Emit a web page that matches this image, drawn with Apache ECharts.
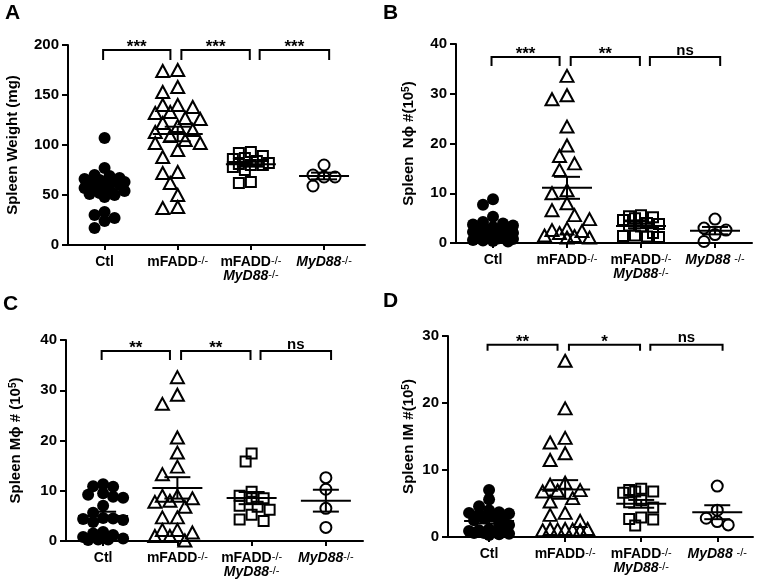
<!DOCTYPE html>
<html><head><meta charset="utf-8">
<script src="https://cdn.jsdelivr.net/npm/echarts@6/dist/echarts.min.js"></script>
<style>html,body{margin:0;padding:0;background:#fff}#c{width:760px;height:584px}</style>
</head><body><div id="c"></div>
<script>
// ---- group names / x labels ----
const groupNames = ['Ctl', 'mFADD-/-', 'mFADD-/- MyD88-/-', 'MyD88-/-'];
const xLabelsAC = ['{b|Ctl}', '{b|mFADD}{s|-/-}', '{b|mFADD}{s|-/-}\n{i|MyD88}{s|-/-}', '{i|MyD88}{s|-/-}'];
const xLabelsBD = ['{b|Ctl}', '{b|mFADD}{s|-/-}', '{b|mFADD}{s|-/-}\n{i|MyD88}{s|-/-}', '{i|MyD88 }{s|-/-}'];

// ---- Panel A: spleen weight (mg) ----
const weightCtl  = [107, 77, 70, 69, 67, 66, 65, 64, 63, 62, 61, 60, 58, 57, 55, 54, 52, 51, 50, 48, 33, 30, 27, 24, 17];
const weightFadd = [175, 174, 158, 153, 140, 140, 138, 133, 132, 127, 126, 122, 119, 115, 113, 109, 105, 102, 102, 95, 88, 73, 72, 62, 50, 38, 37];
const weightDko  = [93, 92, 89, 87, 86, 84, 82, 81, 80, 80, 78, 75, 63, 62];
const weightMyd  = [80, 70, 68, 68, 59];
const ticksA = [0, 50, 100, 150, 200];
const sigA = ['***', '***', '***'];

// ---- Panel B: spleen Nphi # (10^5) ----
const nphiCtl  = [8.8, 7.7, 5.3, 4.2, 3.9, 3.7, 3.5, 3.2, 3.0, 2.8, 2.6, 2.4, 2.2, 2.0, 1.8, 1.6, 1.4, 1.2, 1.0, 0.9, 0.8, 0.6, 0.5, 0.4, 0.3];
const nphiFadd = [33.6, 29.7, 28.9, 23.4, 19.6, 17.5, 16.0, 14.7, 10.6, 10.0, 8.0, 6.6, 5.6, 4.8, 2.9, 2.6, 2.4, 2.0, 1.5, 1.4, 1.1, 1.1];
const nphiDko  = [5.6, 5.4, 5.2, 5.0, 4.6, 4.0, 3.8, 3.5, 3.3, 2.0, 1.5, 1.4, 1.3, 1.2];
const nphiMyd  = [4.8, 3.0, 2.6, 1.7, 0.3];
const ticksB = [0, 10, 20, 30, 40];
const sigB = ['***', '**', 'ns'];

// ---- Panel C: spleen Mphi # (10^5) ----
const mphiCtl  = [11.3, 10.9, 10.8, 9.5, 9.2, 8.8, 8.6, 7.0, 5.6, 4.6, 4.5, 4.4, 4.2, 3.8, 1.8, 1.5, 1.2, 0.8, 0.5, 0.3, 0.3, 0.2];
const mphiFadd = [32.6, 29.1, 27.3, 20.6, 17.6, 14.8, 13.3, 9.0, 9.0, 8.5, 8.0, 7.8, 6.8, 4.7, 4.7, 2.2, 2.2, 1.7, 1.0, 1.0, 0.1];
const mphiDko  = [17.4, 15.8, 9.8, 9.0, 8.5, 8.5, 7.0, 6.8, 6.2, 5.2, 4.3, 4.0];
const mphiMyd  = [12.6, 10.3, 6.5, 2.7];
const ticksC = [0, 10, 20, 30, 40];
const sigC = ['**', '**', 'ns'];

// ---- Panel D: spleen IM # (10^5) ----
const imCtl  = [7.0, 5.6, 4.6, 4.0, 3.7, 3.6, 3.5, 3.4, 3.2, 3.0, 2.8, 2.5, 2.0, 1.8, 1.2, 1.0, 0.9, 0.8, 0.7, 0.6, 0.6, 0.5, 0.4, 0.3];
const imFadd = [26.3, 19.2, 14.8, 14.1, 12.5, 11.5, 8.1, 7.8, 7.0, 6.9, 6.8, 5.8, 5.3, 3.6, 3.3, 2.4, 1.2, 1.2, 1.2, 1.1, 1.1, 1.0, 1.0];
const imDko  = [7.2, 7.0, 6.8, 6.8, 6.6, 5.5, 5.2, 4.4, 2.9, 2.7, 2.6, 1.7];
const imMyd  = [7.6, 4.0, 2.8, 2.3, 1.8];
const ticksD = [0, 10, 20, 30];
const sigD = ['**', '*', 'ns'];

// ---- layout / style ----
const F = '"Liberation Sans", Arial, Helvetica, sans-serif';
const panels = [
  {letter:'A', lx:5, ly:3, grid:{left:68, top:45, width:297, height:200}, xMin:-0.5, xMax:3.56,
   title:'Spleen Weight (mg)', nameGap:48, ticks:ticksA, labels:xLabelsAC,
   data:[weightCtl, weightFadd, weightDko, weightMyd], sig:sigA, brY:195, brDrop:10},
  {letter:'B', lx:383, ly:3, grid:{left:456, top:44, width:296, height:199}, xMin:-0.5, xMax:3.5,
   title:'Spleen  N\u03D5 #(10{s|5})', nameGap:40, ticks:ticksB, labels:xLabelsBD,
   data:[nphiCtl, nphiFadd, nphiDko, nphiMyd], sig:sigB, brY:37.4, brDrop:9},
  {letter:'C', lx:3, ly:294, grid:{left:66, top:340, width:297, height:201}, xMin:-0.5, xMax:3.5,
   title:'Spleen M\u03D5 # (10{s|5})', nameGap:43, ticks:ticksC, labels:xLabelsAC,
   data:[mphiCtl, mphiFadd, mphiDko, mphiMyd], sig:sigC, brY:37.8, brDrop:9},
  {letter:'D', lx:383, ly:291, grid:{left:448, top:336, width:305, height:201}, xMin:-0.54, xMax:3.47,
   title:'Spleen IM #(10{s|5})', nameGap:32, ticks:ticksD, labels:xLabelsBD,
   data:[imCtl, imFadd, imDko, imMyd], sig:sigD, brY:28.7, brDrop:6}
];

const markerStyles = [
  {symbol:'circle', symbolSize:12, itemStyle:{color:'#000', borderWidth:0, opacity:1}},
  {symbol:'triangle', symbolSize:[13,12], itemStyle:{color:'rgba(0,0,0,0)', borderColor:'#000', borderWidth:2, opacity:1}},
  {symbol:'rect', symbolSize:10, itemStyle:{color:'rgba(0,0,0,0)', borderColor:'#000', borderWidth:2, opacity:1}},
  {symbol:'circle', symbolSize:11, itemStyle:{color:'rgba(0,0,0,0)', borderColor:'#000', borderWidth:2, opacity:1}}
];
const swarmParams = [
  {minD:9, step:5, maxHalf:22},
  {minD:12, step:7.5, maxHalf:22.5},
  {minD:10, step:6, maxHalf:20},
  {minD:11, step:11, maxHalf:22}
];

function mean(a){return a.reduce((s,v)=>s+v,0)/a.length;}
function sem(a){const m=mean(a);const v=a.reduce((s,x)=>s+(x-m)*(x-m),0)/(a.length-1);return Math.sqrt(v/a.length);}

// deterministic beeswarm layout in pixel space (horizontal offsets only)
function swarm(vals, pyu, prm){
  const cands=[0];
  for(let k=prm.step;k<=prm.maxHalf+1e-6;k+=prm.step){cands.push(-k,k);}
  const placed=[], offs=[];
  vals.forEach(v=>{
    const y=v*pyu;
    let best=0, bestScore=-1;
    for(const c of cands){
      let md=Infinity;
      for(const p of placed){const d=Math.hypot(p[0]-c,p[1]-y); if(d<md) md=d;}
      if(md>=prm.minD){best=c; bestScore=Infinity; break;}
      if(md>bestScore){bestScore=md; best=c;}
    }
    placed.push([best,y]); offs.push(best);
  });
  return offs;
}

const richX = {
  b:{fontFamily:F, fontSize:14, fontWeight:'bold', color:'#000', lineHeight:14},
  i:{fontFamily:F, fontSize:14, fontWeight:'bold', fontStyle:'italic', color:'#000', lineHeight:14},
  s:{fontFamily:F, fontSize:11, color:'#000', verticalAlign:'top', lineHeight:10}
};

const grids=[], xAxes=[], yAxes=[], series=[], graphics=[];
panels.forEach((p,pi)=>{
  grids.push({left:p.grid.left, top:p.grid.top, width:p.grid.width, height:p.grid.height, containLabel:false});
  const ymin=p.ticks[0], ymax=p.ticks[p.ticks.length-1], yint=p.ticks[1]-p.ticks[0];
  const pyu=p.grid.height/(ymax-ymin), pxu=p.grid.width/(p.xMax-p.xMin);
  xAxes.push({type:'value', gridIndex:pi, min:p.xMin, max:p.xMax,
    axisLine:{show:true, onZero:false, lineStyle:{color:'#000', width:2}},
    axisTick:{show:true, customValues:[0,1,2,3], length:5, lineStyle:{color:'#000', width:2}},
    axisLabel:{show:true, customValues:[0,1,2,3], margin:10, formatter:(v)=>p.labels[Math.round(v)], rich:richX},
    splitLine:{show:false}});
  yAxes.push({type:'value', gridIndex:pi, min:ymin, max:ymax, interval:yint,
    axisLine:{show:true, onZero:false, lineStyle:{color:'#000', width:2}},
    axisTick:{show:true, length:6, lineStyle:{color:'#000', width:2}},
    axisLabel:{margin:9, color:'#000', fontSize:15, fontWeight:'bold', fontFamily:F},
    splitLine:{show:false},
    name:p.title, nameLocation:'middle', nameGap:p.nameGap,
    nameTextStyle:{fontFamily:F, fontSize:15, fontWeight:'bold', color:'#000',
      rich:{s:{fontFamily:F, fontSize:10, fontWeight:'bold', color:'#000', verticalAlign:'top', lineHeight:10}}}});
  // points
  p.data.forEach((arr,k)=>{
    const offs=swarm(arr, pyu, swarmParams[k]);
    series.push(Object.assign({type:'scatter', xAxisIndex:pi, yAxisIndex:pi, silent:true, z:3,
      data:arr.map((v,n)=>[k+offs[n]/pxu, v])}, markerStyles[k]));
  });
  // mean +/- SEM
  series.push({type:'custom', xAxisIndex:pi, yAxisIndex:pi, silent:true, z:4, clip:false,
    data:p.data.map((arr,k)=>[k, mean(arr), sem(arr)]),
    renderItem:(params, api)=>{
      const k=api.value(0), m=api.value(1), s=api.value(2);
      const c=api.coord([k,m]), u=api.coord([k,m+s]), l=api.coord([k,m-s]);
      const st={stroke:'#000', lineWidth:2};
      return {type:'group', children:[
        {type:'line', shape:{x1:c[0]-25,y1:c[1],x2:c[0]+25,y2:c[1]}, style:st},
        {type:'line', shape:{x1:u[0]-13,y1:u[1],x2:u[0]+13,y2:u[1]}, style:st},
        {type:'line', shape:{x1:l[0]-13,y1:l[1],x2:l[0]+13,y2:l[1]}, style:st},
        {type:'line', shape:{x1:u[0],y1:u[1],x2:l[0],y2:l[1]}, style:st}
      ]};
    }});
  // significance brackets
  series.push({type:'custom', xAxisIndex:pi, yAxisIndex:pi, silent:true, z:5, clip:false,
    data:p.sig.map((s,k)=>[k, k+1]),
    renderItem:(params, api)=>{
      const i=api.value(0), j=api.value(1);
      const xl=i-0.02+0.07*i, xr=j-0.1+0.085*(j-1);
      const a=api.coord([xl,p.brY]), b=api.coord([xr,p.brY]);
      const lab=p.sig[params.dataIndex];
      const star=lab.indexOf('*')>=0;
      return {type:'group', children:[
        {type:'polyline', shape:{points:[[a[0],a[1]+p.brDrop],[a[0],a[1]],[b[0],b[1]],[b[0],b[1]+p.brDrop]]},
          style:{stroke:'#000', lineWidth:2, fill:null}},
        {type:'text', x:(a[0]+b[0])/2, y:a[1]+(star?6:1),
          style:{text:lab, align:'center', verticalAlign:'bottom', font:'bold '+(star?17:15)+'px '+F, fill:'#000'}}
      ]};
    }});
  graphics.push({type:'text', left:p.lx, top:p.ly, style:{text:p.letter, font:'bold 21px '+F, fill:'#000'}});
});

const chart=echarts.init(document.getElementById('c'), null, {renderer:'canvas'});
chart.setOption({animation:false, backgroundColor:'#fff', grid:grids, xAxis:xAxes, yAxis:yAxes, series:series, graphic:graphics});
</script></body></html>
